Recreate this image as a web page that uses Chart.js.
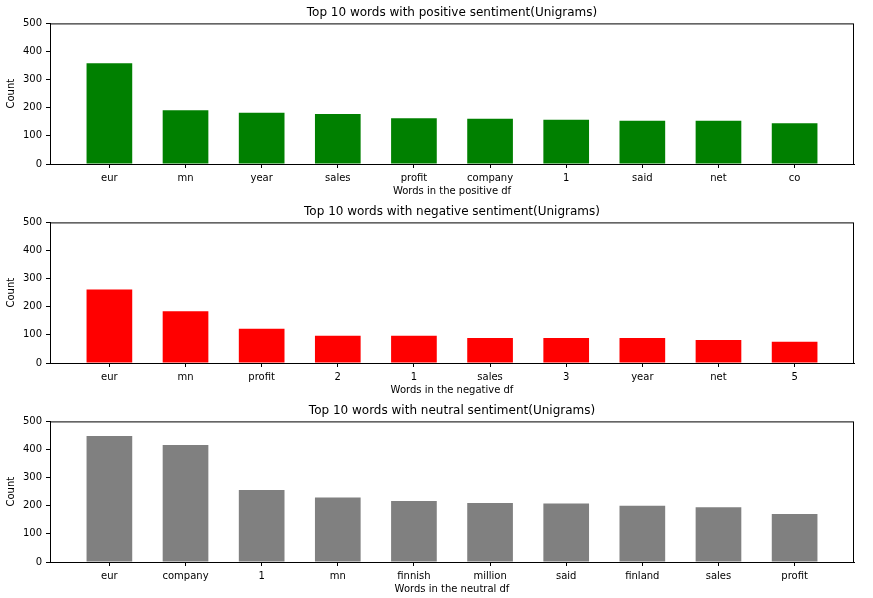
<!DOCTYPE html>
<html>
<head>
<meta charset="utf-8">
<script src="https://cdn.jsdelivr.net/npm/chart.js@4/dist/chart.umd.min.js"></script>
<style>
  body { margin: 0; background: #fff; }
  .box { position: absolute; left: 0; width: 873px; height: 199px; }
</style>
</head>
<body>
<div class="box" style="top:0px"><canvas id="posChart"></canvas></div>
<div class="box" style="top:199px"><canvas id="negChart"></canvas></div>
<div class="box" style="top:398px"><canvas id="neuChart"></canvas></div>
<script>
// Word counts per sentiment
const posWords = ['eur', 'mn', 'year', 'sales', 'profit', 'company', '1', 'said', 'net', 'co'];
const posCounts = [358, 191, 182, 178, 163, 161, 157, 154, 154, 145];

const negWords = ['eur', 'mn', 'profit', '2', '1', 'sales', '3', 'year', 'net', '5'];
const negCounts = [261, 184, 122, 97, 97, 89, 89, 89, 82, 76];

const neuWords = ['eur', 'company', '1', 'mn', 'finnish', 'million', 'said', 'finland', 'sales', 'profit'];
const neuCounts = [448, 416, 256, 229, 217, 210, 208, 200, 195, 171];

const yTicks = [0, 100, 200, 300, 400, 500];

Chart.defaults.font.family = 'DejaVu Sans';
Chart.defaults.color = '#000';

// draw the full box around the plot like matplotlib spines
const framePlugin = {
    id: 'frame',
    afterDraw(chart) {
        const a = chart.chartArea;
        const ctx = chart.ctx;
        ctx.save();
        ctx.strokeStyle = '#000';
        ctx.lineWidth = 1;
        ctx.strokeRect(a.left + 0.5, a.top + 0.5, a.right - a.left - 1, a.bottom - a.top);
        ctx.restore();
    }
};

function makeChart(id, words, counts, color, title, xTitle) {
    const ctx = document.getElementById(id).getContext('2d');
    return new Chart(ctx, {
        type: 'bar',
        data: {
            datasets: [{
                data: counts.map((c, i) => ({ x: i, y: c })),
                backgroundColor: color,
                borderWidth: 0,
                barPercentage: 0.6,
                categoryPercentage: 1.0
            }]
        },
        options: {
            responsive: true,
            maintainAspectRatio: false,
            animation: false,
            layout: { padding: { left: 0, right: 19, top: 0, bottom: 0 } },
            plugins: {
                legend: { display: false },
                tooltip: { enabled: false },
                title: {
                    display: true,
                    text: title,
                    fullSize: false,
                    font: { size: 12, weight: 'normal' },
                    padding: { top: 6, bottom: 3 }
                }
            },
            scales: {
                x: {
                    type: 'linear',
                    min: -0.78,
                    max: 9.78,
                    offset: false,
                    afterFit: s => { s.height = 35; },
                    afterBuildTicks: s => { s.ticks = words.map((w, i) => ({ value: i })); },
                    grid: { offset: false, drawOnChartArea: false, drawTicks: true, tickLength: 4, color: '#000' },
                    border: { display: true, color: '#000' },
                    ticks: {
                        autoSkip: false,
                        maxRotation: 0,
                        padding: 4,
                        font: { size: 10 },
                        callback: v => (words[v] !== undefined) ? words[v] : ''
                    },
                    title: {
                        display: true,
                        text: xTitle,
                        font: { size: 10 },
                        padding: { top: 0, bottom: 2 }
                    }
                },
                y: {
                    min: 0,
                    max: 500,
                    afterFit: s => { s.width = 50; },
                    afterBuildTicks: s => { s.ticks = yTicks.map(v => ({ value: v })); },
                    grid: { drawOnChartArea: false, drawTicks: true, tickLength: 4, color: '#000' },
                    border: { display: true, color: '#000' },
                    ticks: { padding: 4, font: { size: 10 } },
                    title: {
                        display: true,
                        text: 'Count',
                        font: { size: 10 },
                        padding: { top: 5, bottom: 0 }
                    }
                }
            }
        },
        plugins: [framePlugin]
    });
}

makeChart('posChart', posWords, posCounts, '#008000', 'Top 10 words with positive sentiment(Unigrams)', 'Words in the positive df');
makeChart('negChart', negWords, negCounts, '#ff0000', 'Top 10 words with negative sentiment(Unigrams)', 'Words in the negative df');
makeChart('neuChart', neuWords, neuCounts, '#808080', 'Top 10 words with neutral sentiment(Unigrams)', 'Words in the neutral df');
</script>
</body>
</html>
